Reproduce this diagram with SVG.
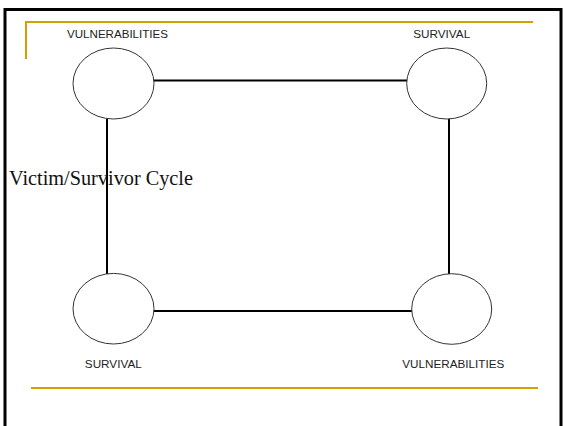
<svg xmlns="http://www.w3.org/2000/svg" width="565" height="426" viewBox="0 0 565 426">
<style>
.frame{fill:none;stroke:#000;stroke-width:3}
.gold{fill:none;stroke:#D4A000;stroke-width:2}
.node{fill:#fff;stroke:#333;stroke-width:1}
.conn{fill:none;stroke:#000;stroke-width:2}
.lbl{font-family:"Liberation Sans",Arial,sans-serif;font-size:11px;fill:#222;text-anchor:middle}
.title{font-family:"Liberation Serif","Times New Roman",serif;font-size:20px;fill:#111}
</style>
<rect class="frame" x="5" y="9.5" width="556" height="430"/>
<polyline class="gold" points="26,59 26,22 533,22"/>
<line class="gold" x1="31" y1="388" x2="538" y2="388"/>
<g id="connectors">
<line class="conn" x1="154" y1="80.5" x2="407" y2="80.5"/>
<line class="conn" x1="107" y1="119" x2="107" y2="274"/>
<line class="conn" x1="449" y1="119" x2="449" y2="274"/>
<line class="conn" x1="154" y1="311" x2="412" y2="311"/>
</g>
<g id="node-tl">
<ellipse class="node" cx="113.5" cy="83.5" rx="40.5" ry="35.5"/>
<text class="lbl" x="117.5" y="38" textLength="101" lengthAdjust="spacingAndGlyphs">VULNERABILITIES</text>
</g>
<g id="node-tr">
<ellipse class="node" cx="446.7" cy="83.5" rx="40" ry="35.5"/>
<text class="lbl" x="441.7" y="38" textLength="57" lengthAdjust="spacingAndGlyphs">SURVIVAL</text>
</g>
<g id="node-bl">
<ellipse class="node" cx="113.5" cy="308.7" rx="40.5" ry="35.3"/>
<text class="lbl" x="113.3" y="368" textLength="57" lengthAdjust="spacingAndGlyphs">SURVIVAL</text>
</g>
<g id="node-br">
<ellipse class="node" cx="451.7" cy="309" rx="40" ry="35.3"/>
<text class="lbl" x="453.3" y="368" textLength="102" lengthAdjust="spacingAndGlyphs">VULNERABILITIES</text>
</g>
<text class="title" x="9" y="185" textLength="184" lengthAdjust="spacingAndGlyphs">Victim/Survivor Cycle</text>
</svg>
